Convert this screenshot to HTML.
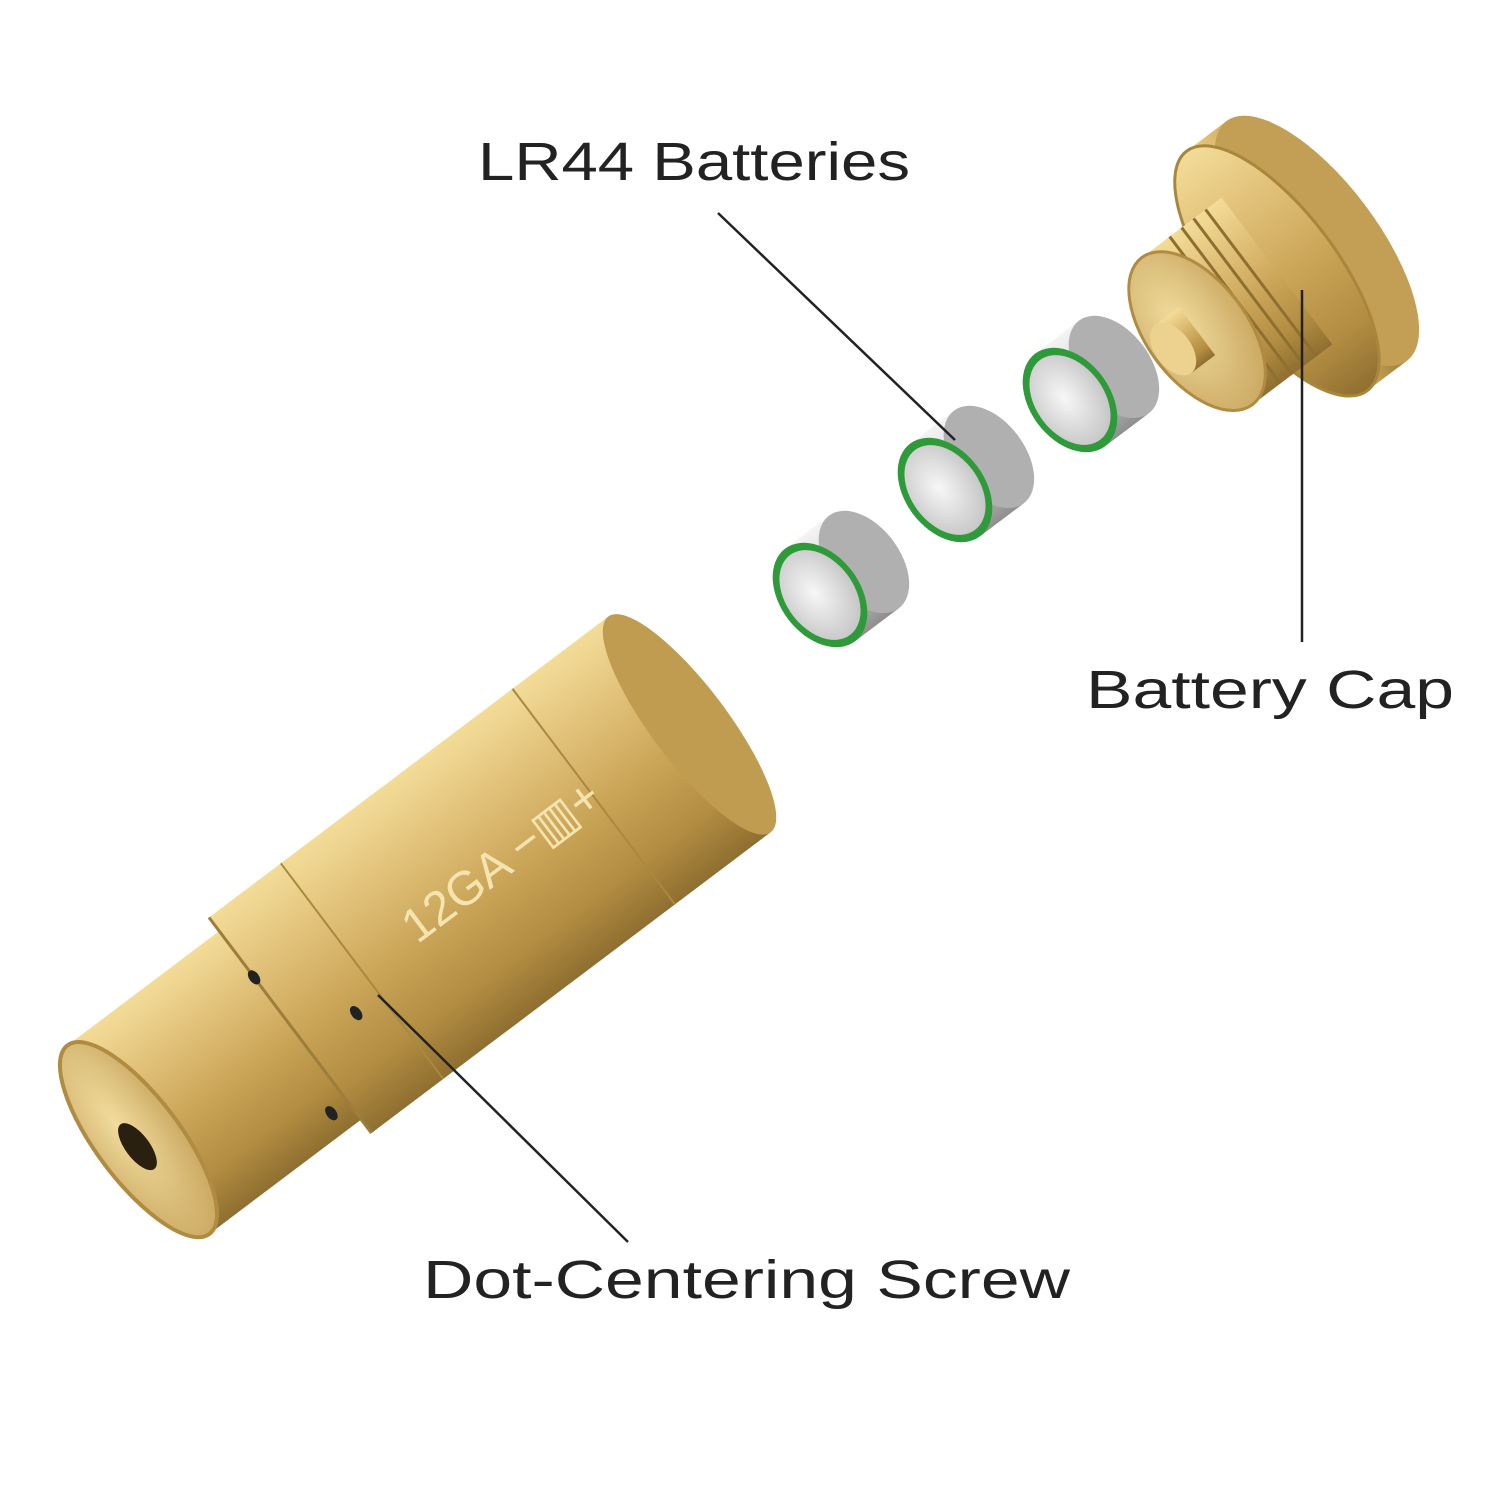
<!DOCTYPE html>
<html><head><meta charset="utf-8"><style>
html,body{margin:0;padding:0;background:#fff;}
svg{display:block}
text{font-family:"Liberation Sans",sans-serif;fill:#222;}
</style></head><body>
<svg width="1500" height="1500" viewBox="0 0 1500 1500" xmlns="http://www.w3.org/2000/svg">
<defs>
<linearGradient id="brass" x1="0" y1="0" x2="0" y2="1">
<stop offset="0" stop-color="#f3dc98"/><stop offset="0.25" stop-color="#e2c27a"/>
<stop offset="0.55" stop-color="#c9a457"/><stop offset="0.8" stop-color="#b28d42"/><stop offset="1" stop-color="#8f6f30"/>
</linearGradient>
<linearGradient id="brass2" x1="0" y1="0" x2="1" y2="1">
<stop offset="0" stop-color="#ecd08a"/><stop offset="0.5" stop-color="#d1ad5e"/><stop offset="1" stop-color="#9b7a35"/>
</linearGradient>
<radialGradient id="face" cx="0.4" cy="0.4" r="0.7">
<stop offset="0" stop-color="#f1dc9e"/><stop offset="1" stop-color="#c8a55d"/>
</radialGradient>
<linearGradient id="silver" x1="0" y1="0" x2="0" y2="1">
<stop offset="0" stop-color="#f4f4f4"/><stop offset="0.6" stop-color="#c9c9c9"/><stop offset="1" stop-color="#8e8e8e"/>
</linearGradient>
<radialGradient id="sface" cx="0.45" cy="0.45" r="0.6">
<stop offset="0" stop-color="#f7f7f7"/><stop offset="1" stop-color="#c4c4c4"/>
</radialGradient>
</defs>
<rect width="1500" height="1500" fill="#fff"/>

<g transform="translate(410,935) rotate(-37)">
  <rect x="-340" y="-118" width="200" height="236" fill="url(#brass)"/>
  <rect x="-150" y="-135" width="500" height="270" fill="url(#brass)"/>
  <ellipse cx="350" cy="0" rx="38" ry="135" fill="#c09c50"/>
  <line x1="-150" y1="-135" x2="-150" y2="135" stroke="#9c7d3a" stroke-width="3"/>
  <line x1="-60" y1="-135" x2="-60" y2="135" stroke="#a8893f" stroke-width="2"/>
  <line x1="230" y1="-135" x2="230" y2="135" stroke="#a8893f" stroke-width="2"/>
  <ellipse cx="-340" cy="0" rx="42" ry="118" fill="url(#face)" stroke="#b08c42" stroke-width="4"/>
  <ellipse cx="-345" cy="5" rx="12" ry="28" fill="#2a2010"/>
  <ellipse cx="-90" cy="30" rx="5" ry="8" fill="#222"/>
  <ellipse cx="-150" cy="-60" rx="5" ry="8" fill="#222"/>
  <ellipse cx="-170" cy="95" rx="5" ry="8" fill="#222"/>
  <text x="0" y="12" font-size="48" style="fill:#f5e4b0">12GA −▥+</text>
</g>

<g>
  <g transform="translate(820,595) rotate(-37)">
    <rect x="0" y="-58" width="55" height="116" fill="url(#silver)"/>
    <ellipse cx="55" cy="0" rx="36" ry="58" fill="#b0b0b0"/>
    <ellipse cx="0" cy="0" rx="40" ry="58" fill="#2e9a3a"/>
    <ellipse cx="0" cy="0" rx="34" ry="50" fill="url(#sface)"/>
  </g>
  <g transform="translate(945,490) rotate(-37)">
    <rect x="0" y="-58" width="55" height="116" fill="url(#silver)"/>
    <ellipse cx="55" cy="0" rx="36" ry="58" fill="#b0b0b0"/>
    <ellipse cx="0" cy="0" rx="40" ry="58" fill="#2e9a3a"/>
    <ellipse cx="0" cy="0" rx="34" ry="50" fill="url(#sface)"/>
  </g>
  <g transform="translate(1070,400) rotate(-37)">
    <rect x="0" y="-58" width="55" height="116" fill="url(#silver)"/>
    <ellipse cx="55" cy="0" rx="36" ry="58" fill="#b0b0b0"/>
    <ellipse cx="0" cy="0" rx="40" ry="58" fill="#2e9a3a"/>
    <ellipse cx="0" cy="0" rx="34" ry="50" fill="url(#sface)"/>
  </g>
</g>

<g transform="translate(1245,295) rotate(-37)">
  <rect x="40" y="-150" width="50" height="300" fill="url(#brass2)"/>
  <ellipse cx="90" cy="0" rx="60" ry="150" fill="#c39f55"/>
  <ellipse cx="40" cy="0" rx="60" ry="150" fill="url(#brass)" stroke="#a8873d" stroke-width="3"/>
  <rect x="-60" y="-92" width="100" height="184" fill="url(#brass)"/>
  <g stroke="#8f6f30" stroke-width="3">
    <line x1="-10" y1="-92" x2="-10" y2="92"/><line x1="5" y1="-92" x2="5" y2="92"/>
    <line x1="20" y1="-92" x2="20" y2="92"/><line x1="-25" y1="-92" x2="-25" y2="92"/>
  </g>
  <ellipse cx="-60" cy="0" rx="50" ry="92" fill="url(#face)" stroke="#b08c42" stroke-width="3"/>
  <rect x="-90" y="-30" width="30" height="60" fill="url(#brass)"/>
  <ellipse cx="-90" cy="0" rx="18" ry="30" fill="#ecd28e"/>
</g>

<g stroke="#222" stroke-width="2.5" fill="none">
  <line x1="718" y1="213" x2="955" y2="440"/>
  <line x1="1302" y1="290" x2="1302" y2="642"/>
  <line x1="378" y1="995" x2="628" y2="1242"/>
</g>

<text x="478" y="180" font-size="54" textLength="432" lengthAdjust="spacingAndGlyphs">LR44 Batteries</text>
<text x="1086" y="708" font-size="54" textLength="368" lengthAdjust="spacingAndGlyphs">Battery Cap</text>
<text x="423" y="1298" font-size="54" textLength="647" lengthAdjust="spacingAndGlyphs">Dot-Centering Screw</text>
</svg>
</body></html>
